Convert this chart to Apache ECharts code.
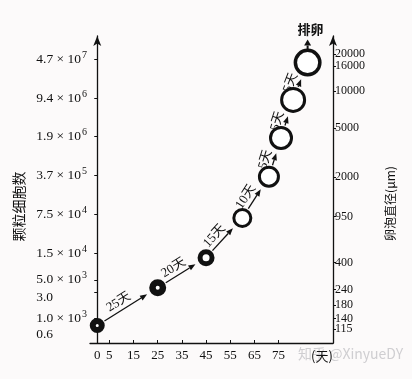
<!DOCTYPE html>
<html><head><meta charset="utf-8">
<script src="https://cdn.jsdelivr.net/npm/echarts@6/dist/echarts.min.js"></script>
<style>html,body{margin:0;padding:0;background:#fcfafa}#c{width:412px;height:379px}</style>
</head><body><div id="c"></div>
<script>
// ---- data ----
const days = [0, 25, 45, 60, 71, 76, 81, 87];
const cellCounts = [750, 3600, 12500, 65000, 360000, 1800000, 8700000, 41000000];
const stepLabels = ['25天', '20天', '15天', '10天', '5天', '5天', '5天'];
const endLabel = '排卵';
const dayTicks = [0, 5, 15, 25, 35, 45, 55, 65, 75];
const cellTicks = [600, 1000, 3000, 5000, 15000, 75000, 375000, 1900000, 9400000, 47000000];
const cellTickLabels = ['0.6', '1.0 × 10³', '3.0', '5.0 × 10³', '1.5 × 10⁴', '7.5 × 10⁴', '3.7 × 10⁵', '1.9 × 10⁶', '9.4 × 10⁶', '4.7 × 10⁷'];
const diameterTicks = [115, 140, 180, 240, 400, 950, 2000, 5000, 10000, 16000, 20000];
const leftTitle = '颗粒细胞数';
const rightTitle = '卵泡直径(μm)';
const xName = '(天)';
const watermark = '知乎 @XinyueDY';

// ---- axis ranges / styling ----
const LEFT_MIN = 363, LEFT_MAX = 1.234e8;
const RIGHT_MIN = 88.2, RIGHT_MAX = 28140;
const INK = '#111111';
const SERIF = "'Liberation Serif','Noto Sans CJK SC',serif";
const CJK = "'Noto Sans CJK SC',sans-serif";
const markerStyles = [
  {size: 9, border: 6}, {size: 10.5, border: 6.5}, {size: 12, border: 5},
  {size: 17, border: 3}, {size: 19, border: 3}, {size: 21, border: 3},
  {size: 23, border: 3}, {size: 24.5, border: 3.5}
];
const outerR = i => markerStyles[i].size / 2 + markerStyles[i].border / 2;
const SUP = '⁰¹²³⁴⁵⁶⁷⁸⁹';

function arrowParts(s, e, headL, headW, lw) {
  const dx = e[0] - s[0], dy = e[1] - s[1];
  const len = Math.hypot(dx, dy);
  const ux = dx / len, uy = dy / len, nx = uy, ny = -ux;
  const b = [e[0] - ux * headL, e[1] - uy * headL];
  return [
    {type: 'line', shape: {x1: s[0], y1: s[1], x2: b[0], y2: b[1]}, style: {stroke: INK, lineWidth: lw}},
    {type: 'polygon', shape: {points: [e, [b[0] + nx * headW, b[1] + ny * headW], [b[0] - nx * headW, b[1] - ny * headW]]}, style: {fill: INK}}
  ];
}

function renderStep(params, api) {
  const i = params.dataIndex;
  const p1 = api.coord([api.value(0), api.value(1)]);
  const p2 = api.coord([api.value(2), api.value(3)]);
  const dx = p2[0] - p1[0], dy = p2[1] - p1[1];
  const len = Math.hypot(dx, dy);
  const ux = dx / len, uy = dy / len, nx = uy, ny = -ux;
  const r1 = outerR(i) + 1, r2 = outerR(i + 1) + 4;
  const s = [p1[0] + ux * r1, p1[1] + uy * r1];
  const e = [p2[0] - ux * r2, p2[1] - uy * r2];
  const mid = [(s[0] + e[0]) / 2, (s[1] + e[1]) / 2];
  const parts = arrowParts(s, e, 7, 2.8, 1.3);
  parts.push({
    type: 'text', x: mid[0] + nx * 8.5 - ux * 3, y: mid[1] + ny * 8.5 - uy * 3,
    rotation: -Math.atan2(dy, dx),
    style: {text: stepLabels[i], fontSize: 13, fontFamily: SERIF, fill: INK, align: 'center', verticalAlign: 'middle'}
  });
  return {type: 'group', children: parts};
}

function renderEnd(params, api) {
  const p = api.coord([api.value(0), api.value(1)]);
  const top = p[1] - outerR(days.length - 1);
  const parts = arrowParts([p[0], top + 1], [p[0], top - 9], 6, 3.5, 2);
  parts.push({
    type: 'text', x: p[0] + 3, y: top - 19,
    style: {text: endLabel, fontSize: 13, fontWeight: 'bold', fontFamily: CJK, fill: INK, align: 'center', verticalAlign: 'middle'}
  });
  return {type: 'group', children: parts};
}

// turn "4.7 × 10⁷" into rich tokens with a raised exponent
function richLabel(txt, base) {
  const m = txt.match(/^(.*?)([⁰¹²³⁴⁵⁶⁷⁸⁹]+)$/);
  if (!m) return '{' + base + '|' + txt + '}';
  const exp = m[2].split('').map(c => SUP.indexOf(c)).join('');
  return '{m|' + m[1] + '}{e|' + exp + '}';
}

const labelRich = {
  m: {fontFamily: SERIF, fontSize: 13.5, color: INK},
  e: {fontFamily: SERIF, fontSize: 10, color: INK, padding: [0, 0, 8, 1]},
  lo: {fontFamily: SERIF, fontSize: 13.5, color: INK, padding: [8, 34, 0, 0]},
  mid: {fontFamily: SERIF, fontSize: 13.5, color: INK, padding: [10, 34, 0, 0]}
};

const chart = echarts.init(document.getElementById('c'), null, {renderer: 'canvas'});
chart.setOption({
  backgroundColor: '#fcfafa',
  animation: false,
  grid: {left: 90, right: 79, top: 36, bottom: 36, containLabel: false},
  xAxis: {
    type: 'value', min: -3, max: 97.5,
    splitLine: {show: false},
    axisLine: {lineStyle: {color: INK, width: 1.3}},
    axisTick: {inside: true, length: 3, customValues: dayTicks, lineStyle: {color: INK}},
    axisLabel: {customValues: dayTicks, color: INK, fontFamily: SERIF, fontSize: 13, margin: 6,
      hideOverlap: false, showMinLabel: true, showMaxLabel: true},
    name: xName, nameLocation: 'end', nameGap: -11,
    nameTextStyle: {color: INK, fontFamily: CJK, fontSize: 13, align: 'center', verticalAlign: 'top', padding: [7, 0, 0, 0]}
  },
  yAxis: [{
    type: 'log', logBase: 5, min: LEFT_MIN, max: LEFT_MAX, position: 'left',
    splitLine: {show: false},
    axisLine: {show: true, symbol: ['none', 'arrow'], symbolSize: [6, 10], lineStyle: {color: INK, width: 1.3}},
    axisTick: {show: true, length: 3, customValues: cellTicks, lineStyle: {color: INK}},
    axisLabel: {
      customValues: cellTicks, color: INK, fontFamily: SERIF, fontSize: 13.5, margin: 3,
      hideOverlap: false, showMinLabel: true, showMaxLabel: true,
      formatter: v => {
        const k = cellTicks.findIndex(t => Math.abs(v / t - 1) < 1e-3);
        if (k < 0) return '';
        return richLabel(cellTickLabels[k], k === 0 ? 'lo' : (k === 2 ? 'mid' : 'm'));
      },
      rich: labelRich
    },
    name: leftTitle, nameLocation: 'middle', nameRotate: 90, nameGap: 59,
    nameTextStyle: {color: INK, fontFamily: CJK, fontSize: 14, padding: [0, 34, 0, 0]}
  }, {
    type: 'log', logBase: 10, min: RIGHT_MIN, max: RIGHT_MAX, position: 'right',
    splitLine: {show: false},
    axisLine: {show: true, symbol: ['none', 'arrow'], symbolSize: [6, 10], lineStyle: {color: INK, width: 1.3}},
    axisTick: {show: true, length: 3, customValues: diameterTicks, lineStyle: {color: INK}},
    axisLabel: {
      // an empty label at the axis start keeps ECharts from dropping the close 115/140 pair
      customValues: [RIGHT_MIN].concat(diameterTicks),
      color: INK, fontFamily: SERIF, fontSize: 12, margin: 2,
      hideOverlap: false, showMinLabel: true, showMaxLabel: true,
      formatter: v => {
        const k = diameterTicks.findIndex(t => Math.abs(v / t - 1) < 1e-3);
        return k < 0 ? '' : String(diameterTicks[k]);
      }
    },
    name: rightTitle, nameLocation: 'middle', nameRotate: 90, nameGap: 51,
    nameTextStyle: {color: INK, fontFamily: CJK, fontSize: 12, padding: [0, 28, 0, 0]}
  }],
  series: [{
    type: 'custom', renderItem: renderStep, clip: false, silent: true, z: 3,
    encode: {x: [0, 2], y: [1, 3]},
    data: stepLabels.map((_, i) => [days[i], cellCounts[i], days[i + 1], cellCounts[i + 1]])
  }, {
    type: 'scatter', z: 4, silent: true,
    data: days.map((d, i) => ({
      value: [d, cellCounts[i]], symbolSize: markerStyles[i].size,
      itemStyle: {color: '#ffffff', opacity: 1, borderColor: INK, borderWidth: markerStyles[i].border}
    }))
  }, {
    type: 'custom', renderItem: renderEnd, clip: false, silent: true, z: 3,
    data: [[days[days.length - 1], cellCounts[cellCounts.length - 1]]]
  }],
  graphic: [{
    type: 'text', left: 298, top: 347, silent: true,
    style: {text: watermark, fontSize: 14, fontFamily: CJK, fill: 'rgba(170,170,175,0.55)'}
  }]
});
</script></body></html>
